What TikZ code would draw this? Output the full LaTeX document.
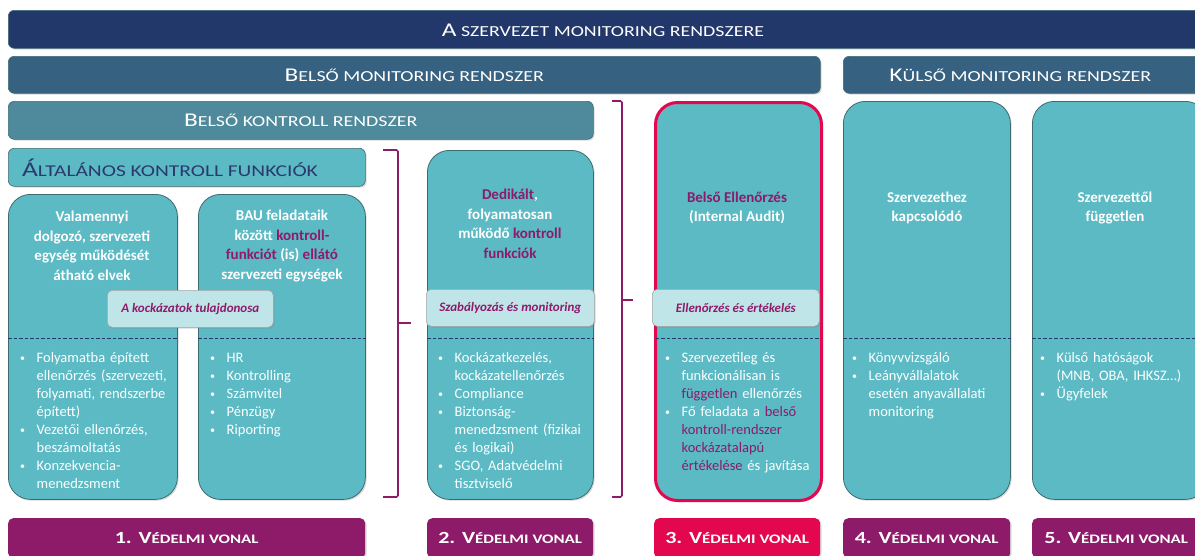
\documentclass[tikz,border=0pt]{standalone}
\usepackage{fontspec}
\setmainfont{Carlito}
\newfontfamily\hdfont[FakeStretch=1.3]{Carlito}
\usetikzlibrary{shadows}
\definecolor{navy}{HTML}{22376A}
\definecolor{steel}{HTML}{376180}
\definecolor{kontrollc}{HTML}{4E8A9B}
\definecolor{tealbox}{HTML}{5BBAC4}
\definecolor{lightbox}{HTML}{BFE5E8}
\definecolor{vpurple}{HTML}{8E1B6A}
\definecolor{crimson}{HTML}{E2074F}
\definecolor{boxline}{HTML}{3D6B70}
\definecolor{navytext}{HTML}{2B3A6E}
\newcommand\HLg[1]{{\fontsize{\lgs}{\lgs}\selectfont #1}}
\newcommand\HSm[1]{{\fontsize{\sms}{\sms}\selectfont #1}}
\newcommand\pu[1]{\textcolor{vpurple}{#1}}
\newcommand\bl[1]{\par\hangindent=16.5pt\hangafter=1\noindent\makebox[16.5pt][l]{\fontsize{10}{10}\selectfont\raisebox{1pt}{•}}\strut#1\par}
\begin{document}
\begin{tikzpicture}[x=1pt,y=-1pt,
  shad/.style={drop shadow={opacity=0.3,shadow xshift=1.3pt,shadow yshift=-1.3pt}},
  bar/.style={rounded corners=6pt, draw=boxline, line width=0.6pt, shad, inner sep=0pt, anchor=north west, text=white},
  colbox/.style={rounded corners=22pt, fill=tealbox, draw=boxline, line width=0.8pt, shad, inner sep=0pt, anchor=north west},
  overlay/.style={rounded corners=5pt, fill=lightbox, draw=gray!70, line width=0.6pt, shad, inner sep=0pt, anchor=north west, text=vpurple, font=\fontsize{13}{13}\selectfont\bfseries\itshape},
  lbl/.style={rounded corners=5pt, shad, inner sep=0pt, anchor=north west, text=white, minimum height=40pt, font={\hdfont\bfseries\def\lgs{17}\def\sms{13}}},
  htxt/.style={font={\hdfont\def\lgs{19.5}\def\sms{15.3}}},
  coltitle/.style={align=center, text=white, font=\fontsize{15}{19.5}\selectfont\bfseries},
  blist/.style={anchor=north west, inner sep=0pt, text width=165pt, text=white, font=\fontsize{14.5}{18}\selectfont\raggedright},
  dline/.style={draw=navy, dashed, dash pattern=on 3.5pt off 2pt, line width=0.7pt},
  brk/.style={draw=vpurple, line width=1.6pt, rounded corners=1.5pt}]
\useasboundingbox (0,0) rectangle (1195,555);
\clip (0,0) rectangle (1195,555);
% top bars
\node[bar, fill=navy, minimum width=1195pt, minimum height=38pt] (top) at (8,10) {};
\node[htxt, text=white] (toptxt) at (603,30) {\HLg{A}\HSm{ SZERVEZET MONITORING RENDSZERE}};
\node[bar, fill=steel, minimum width=812pt, minimum height=37pt, htxt] (bm) at (8,56) {\HLg{B}\HSm{ELSŐ MONITORING RENDSZER}};
\node[bar, fill=steel, minimum width=360pt, minimum height=37pt, htxt] (km) at (843,56) {\hspace{-6pt}\HLg{K}\HSm{ÜLSŐ MONITORING RENDSZER}};
\node[bar, fill=kontrollc, minimum width=585pt, minimum height=38pt, htxt] (bk) at (8,101) {\HLg{B}\HSm{ELSŐ KONTROLL RENDSZER}};
\node[bar, fill=tealbox, minimum width=357pt, minimum height=38pt] (ak) at (8,148) {};
\node[font={\hdfont\def\lgs{21}\def\sms{16.5}}, text=navytext] (aktxt) at (170,168) {\HLg{Á}\HSm{LTALÁNOS KONTROLL FUNKCIÓK}};
% columns
\node[colbox, minimum width=169pt, minimum height=305pt] (c1) at (8,194) {};
\node[colbox, minimum width=167pt, minimum height=305pt] (c2) at (198,194) {};
\node[colbox, minimum width=166pt, minimum height=349pt] (c3) at (427,150) {};
\node[colbox, draw=crimson, line width=3pt, minimum width=166pt, minimum height=398pt] (c4) at (654,101) {};
\node[colbox, minimum width=167pt, minimum height=398pt] (c5) at (843,101) {};
\node[colbox, minimum width=175pt, minimum height=398pt] (c6) at (1032,101) {};
% dashed separators
\foreach \c in {c1,c2,c3,c5,c6}{\draw[dline] (\c.west |- 0,338) -- (\c.east |- 0,338);}
\draw[dline] ([xshift=1.5pt]c4.west |- 0,338) -- ([xshift=-1.5pt]c4.east |- 0,338);
% column titles
\node[coltitle] (t1) at (92,246) {Valamennyi\\dolgozó, szervezeti\\egység működését\\átható elvek};
\node[coltitle] (t2) at (282,246) {BAU feladataik\\között \pu{kontroll-}\\\pu{funkciót} (is) \pu{ellátó}\\szervezeti egységek};
\node[coltitle] (t3) at (510,224) {\pu{Dedikált},\\folyamatosan\\működő \pu{kontroll}\\\pu{funkciók}};
\node[coltitle] (t4) at (737,208) {\pu{Belső Ellenőrzés}\\(Internal Audit)};
\node[coltitle] (t5) at (927,208) {Szervezethez\\kapcsolódó};
\node[coltitle] (t6) at (1115,208) {Szervezettől\\független};
% overlays
\node[overlay, minimum width=166pt, minimum height=37pt] (o1) at (107,290) {A kockázatok tulajdonosa};
\node[overlay, minimum width=168pt, minimum height=37pt] (o2) at (426,289) {Szabályozás és monitoring};
\node[overlay, minimum width=167pt, minimum height=37pt] (o3) at (652,289) {Ellenőrzés és értékelés};
% bullet lists
\node[blist] (b1) at (20,344) {\bl{Folyamatba épített\newline ellenőrzés (szervezeti,\newline folyamati, rendszerbe\newline épített)}\bl{Vezetői ellenőrzés,\newline beszámoltatás}\bl{Konzekvencia-\newline menedzsment}};
\node[blist] (b2) at (210,344) {\bl{HR}\bl{Kontrolling}\bl{Számvitel}\bl{Pénzügy}\bl{Riporting}};
\node[blist] (b3) at (438,344) {\bl{Kockázatkezelés,\newline kockázatellenőrzés}\bl{Compliance}\bl{Biztonság-\newline menedzsment (fizikai\newline és logikai)}\bl{SGO, Adatvédelmi\newline tisztviselő}};
\node[blist] (b4) at (665,344) {\bl{Szervezetileg és\newline funkcionálisan is\newline \pu{független} ellenőrzés}\bl{Fő feladata a \pu{belső}\newline \pu{kontroll-rendszer}\newline \pu{kockázatalapú}\newline \pu{értékelése} és javítása}};
\node[blist] (b5) at (852,344) {\bl{Könyvvizsgáló}\bl{Leányvállalatok\newline esetén anyavállalati\newline monitoring}};
\node[blist] (b6) at (1040,344) {\bl{Külső hatóságok\newline (MNB, OBA, IHKSZ…)}\bl{Ügyfelek}};
% brackets
\draw[brk] (383,150) -- (398,150) -- (398,497) -- (383,497);
\draw[brk] (398,323) -- (411,323);
\draw[brk] (612,101) -- (622,101) -- (622,497) -- (612,497);
\draw[brk] (622,300) -- (633,300);
% bottom labels
\node[lbl, fill=vpurple, minimum width=357pt] (l1) at (8,518) {\HLg{1. V}\HSm{ÉDELMI VONAL}};
\node[lbl, fill=vpurple, minimum width=166pt] (l2) at (427,518) {\HLg{2. V}\HSm{ÉDELMI VONAL}};
\node[lbl, fill=crimson, minimum width=166pt] (l3) at (654,518) {\HLg{3. V}\HSm{ÉDELMI VONAL}};
\node[lbl, fill=vpurple, minimum width=167pt] (l4) at (843,518) {\HLg{4. V}\HSm{ÉDELMI VONAL}};
\node[lbl, fill=vpurple, minimum width=168pt] (l5) at (1032,518) {\HLg{5. V}\HSm{ÉDELMI VONAL}};
\end{tikzpicture}
\end{document}
